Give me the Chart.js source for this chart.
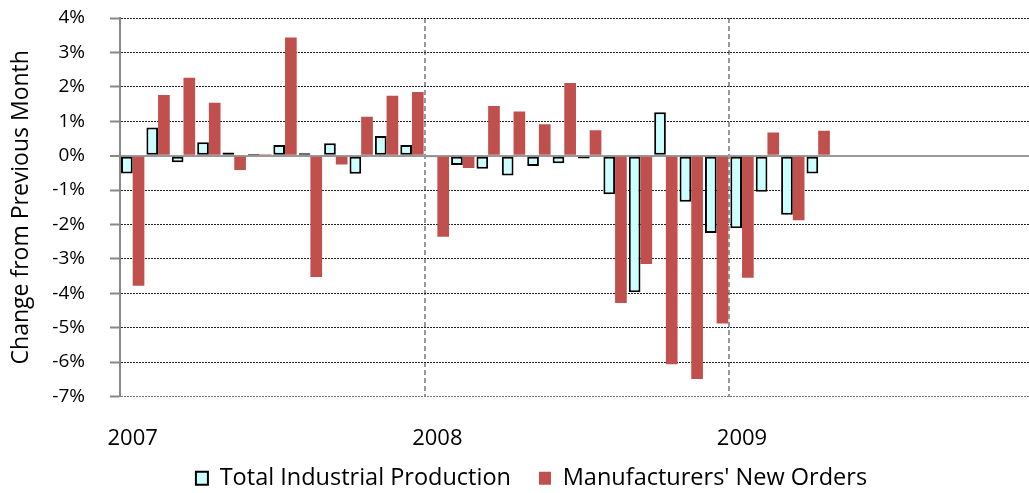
<!DOCTYPE html>
<html>
<head>
<meta charset="utf-8">
<script src="https://cdn.jsdelivr.net/npm/chart.js@4.4.1/dist/chart.umd.min.js"></script>
<style>
html, body { margin: 0; padding: 0; overflow: hidden; background: #fff; }
</style>
</head>
<body>
<canvas id="chart" width="1063" height="500"></canvas>
<script>
const months = [
	'2007-01', '2007-02', '2007-03', '2007-04', '2007-05', '2007-06',
	'2007-07', '2007-08', '2007-09', '2007-10', '2007-11', '2007-12',
	'2008-01', '2008-02', '2008-03', '2008-04', '2008-05', '2008-06',
	'2008-07', '2008-08', '2008-09', '2008-10', '2008-11', '2008-12',
	'2009-01', '2009-02', '2009-03', '2009-04', '2009-05', '2009-06',
	'2009-07', '2009-08', '2009-09', '2009-10', '2009-11', '2009-12'
];
const yearLabels = ['2007', '2008', '2009'];

// % change from previous month
const industrialProduction = [
	-0.52, 0.82, -0.19, 0.39, 0.09, 0.05, 0.31, 0.07, 0.36, -0.53, 0.57, 0.31,
	-0.05, -0.27, -0.38, -0.58, -0.30, -0.22, -0.08, -1.12, -3.97, 1.26, -1.34, -2.25,
	-2.11, -1.05, -1.72, -0.52, null, null, null, null, null, null, null, null
];
const newOrders = [
	-3.78, 1.76, 2.26, 1.54, -0.42, 0.04, 3.43, -3.53, -0.26, 1.13, 1.74, 1.85,
	-2.36, -0.36, 1.44, 1.28, 0.91, 2.11, 0.74, -4.28, -3.15, -6.06, -6.49, -4.88,
	-3.55, 0.67, -1.88, 0.72, null, null, null, null, null, null, null, null
];

Chart.defaults.font.family = "'Open Sans'";
Chart.defaults.color = '#000';

const ctx = document.getElementById('chart').getContext('2d');

const yGridColor = (c) => {
	if (!c.tick) return '#222';
	if (c.tick.value === 0) return '#999';
	if (c.tick.value === -7) return '#777';
	return '#222';
};

new Chart(ctx, {
	type: 'bar',
	data: {
		labels: months,
		datasets: [
			{
				label: 'Total Industrial Production',
				data: industrialProduction,
				backgroundColor: '#ccffff',
				borderColor: '#000',
				borderWidth: 2,
				borderSkipped: false,
				categoryPercentage: 0.92,
				barPercentage: 1
			},
			{
				label: "Manufacturers' New Orders",
				data: newOrders,
				backgroundColor: '#c0504d',
				borderWidth: 0,
				categoryPercentage: 0.92,
				barPercentage: 1
			}
		]
	},
	options: {
		responsive: false,
		animation: false,
		layout: { padding: { top: 18 } },
		plugins: {
			legend: {
				position: 'bottom',
				labels: { boxWidth: 12, boxHeight: 13, padding: 28, font: { size: 23.5 } }
			},
			tooltip: { enabled: false }
		},
		scales: {
			x: {
				grid: {
					color: (c) => (c.index % 12 === 0 ? '#999' : 'rgba(0,0,0,0)'),
					lineWidth: 2,
					drawTicks: false,
					borderDash: [5, 3]
				},
				border: { display: false, color: '#999', dash: [5, 3] },
				ticks: {
					autoSkip: false,
					maxRotation: 0,
					// mirror turns off label clipping, negative padding puts labels back under the axis
					mirror: true,
					padding: -55,
					font: { size: 22 },
					callback: (v, i) => (i % 12 === 0 ? yearLabels[i / 12] : '')
				},
				afterFit: (s) => {
					s.height = 42;
					s.paddingLeft = 0;
					s.paddingRight = 0;
				}
			},
			y: {
				min: -7,
				max: 4,
				ticks: { stepSize: 1, padding: 25, font: { size: 19 }, callback: (v) => v + '%' },
				grid: {
					color: yGridColor,
					lineWidth: (c) => (c.tick && c.tick.value === 0 ? 2 : 1),
					tickLength: 10,
					tickColor: '#888',
					tickWidth: 2,
					tickBorderDash: []
				},
				border: {
					color: '#888',
					width: 2,
					dash: (c) => (c.tick && c.tick.value !== 0 ? [2, 1] : [])
				},
				title: {
					display: true,
					text: 'Change from Previous Month',
					font: { size: 23 },
					padding: { top: 8, bottom: 0 }
				},
				afterFit: (s) => {
					s.width = 120;
					s.paddingTop = 0;
					s.paddingBottom = 0;
				}
			},
			y2: {
				position: 'right',
				grid: { display: false },
				border: { display: false },
				ticks: { display: false },
				afterFit: (s) => { s.width = 29; }
			}
		}
	}
});
</script>
</body>
</html>
